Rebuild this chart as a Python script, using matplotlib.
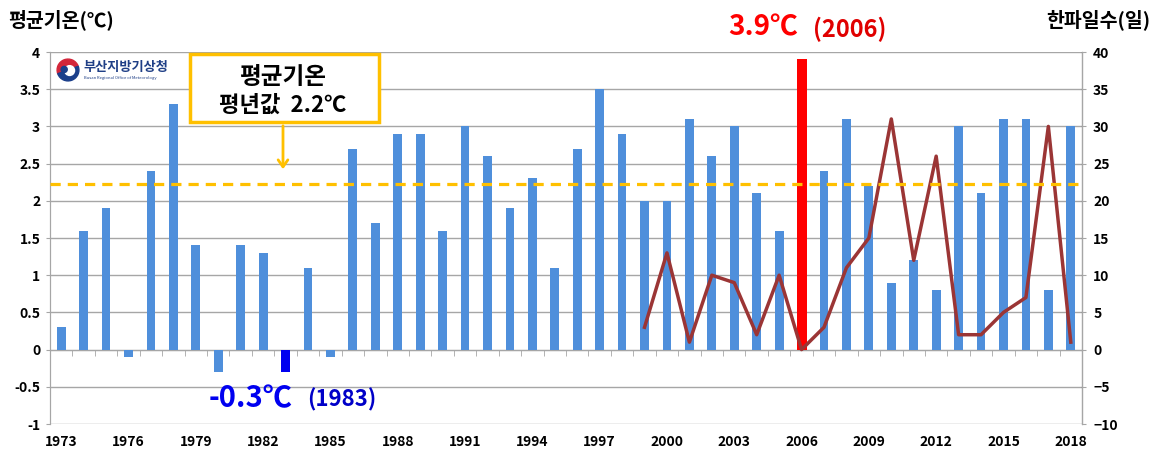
import numpy as np
import matplotlib
matplotlib.use("Agg")
import matplotlib.pyplot as plt
from matplotlib.patches import Wedge, Circle, FancyBboxPatch

plt.rcParams['font.family'] = ['Noto Sans CJK KR', 'DejaVu Sans']

# 연도별 겨울철 평균기온(℃)
years = list(range(1973, 2019))
temp = [0.3, 1.6, 1.9, -0.1, 2.4, 3.3, 1.4, -0.3, 1.4, 1.3,
        -0.3, 1.1, -0.1, 2.7, 1.7, 2.9, 2.9, 1.6, 3.0, 2.6,
        1.9, 2.3, 1.1, 2.7, 3.5, 2.9, 2.0, 2.0, 3.1, 2.6,
        3.0, 2.1, 1.6, 3.9, 2.4, 3.1, 2.2, 0.9, 1.2, 0.8,
        3.0, 2.1, 3.1, 3.1, 0.8, 3.0]

# 한파일수(일), 1999년부터
cold_years = list(range(1999, 2019))
cold_days = [3, 13, 1, 10, 9, 2, 10, 0, 3, 11,
             15, 31, 12, 26, 2, 2, 5, 7, 30, 1]

normal_temp = 2.23
min_year, max_year = 1983, 2006
xtick_years = list(range(1973, 2019, 3))

BAR = '#4F8FDB'
LINE = '#9B3535'
GOLD = '#FFC000'
GRID = '#A6A6A6'

fig = plt.figure(figsize=(11.57, 4.54), dpi=100)
ax = fig.add_axes([50 / 1157, 30 / 454, 1032 / 1157, 372 / 454])
ax2 = ax.twinx()

x = np.arange(len(years))
colors = []
widths = []
for y in years:
    if y == min_year:
        colors.append('#0000F0')
        widths.append(0.42)
    elif y == max_year:
        colors.append('#FF0000')
        widths.append(0.45)
    else:
        colors.append(BAR)
        widths.append(0.39)
ax.bar(x, temp, width=widths, color=colors, zorder=3)

ax.set_xlim(-0.5, len(years) - 0.5)
ax.set_ylim(-1, 4)
ax.set_yticks(np.arange(-1, 4.01, 0.5))
ax.set_yticklabels(['-1', '-0.5', '0', '0.5', '1', '1.5', '2', '2.5', '3', '3.5', '4'])
ax.grid(axis='y', color=GRID, lw=1, zorder=0)
ax.set_axisbelow(True)

# x축 선은 0에서, 눈금 라벨은 아래쪽에
ax.spines['bottom'].set_position(('data', 0))
ax.spines['bottom'].set_color(GRID)
ax.set_xticks(x[:-1] + 0.5, minor=True)
ax.set_xticks([])
ax.tick_params(axis='x', which='minor', length=4, color=GRID, direction='out')
sec = ax.secondary_xaxis('bottom')
sec.spines['bottom'].set_visible(False)
sec.set_xticks([years.index(y) for y in xtick_years])
sec.set_xticklabels([str(y) for y in xtick_years], fontsize=10, fontweight='bold')
sec.tick_params(length=0, pad=8)

for s in ['top']:
    ax.spines[s].set_visible(False)
    ax2.spines[s].set_visible(False)
ax2.spines['bottom'].set_visible(False)
ax.spines['left'].set_color(GRID)
ax2.spines['left'].set_color(GRID)
ax2.spines['right'].set_color(GRID)
ax.tick_params(axis='y', length=3, color=GRID, labelsize=10, pad=4)
for t in ax.get_yticklabels():
    t.set_fontweight('bold')

cx = [years.index(y) for y in cold_years]
ax2.plot(cx, cold_days, color=LINE, lw=2.5, zorder=4)
ax2.set_ylim(-10, 40)
ax2.set_yticks(range(-10, 41, 5))
ax2.tick_params(axis='y', length=3, color=GRID, labelsize=10, pad=5)
for t in ax2.get_yticklabels():
    t.set_fontweight('bold')

# 평년값 점선
ax2.axhline(normal_temp * 10, color=GOLD, lw=2.3, ls=(0, (3.2, 2.2)), zorder=5)

# 축 제목
fig.text(8 / 1157, 1 - 20 / 454, '평균기온(℃)', fontsize=14, fontweight='bold',
         ha='left', va='center')
fig.text(1150 / 1157, 1 - 20 / 454, '한파일수(일)', fontsize=14, fontweight='bold',
         ha='right', va='center')

# 평년값 박스와 화살표
box_x = 283
fig.patches.append(FancyBboxPatch((190 / 1157, 1 - 122 / 454), 189 / 1157, 68 / 454,
                                  boxstyle='square,pad=0', transform=fig.transFigure,
                                  fc='white', ec=GOLD, lw=2.5, zorder=10))
fig.text(box_x / 1157, 1 - 77 / 454, '평균기온', fontsize=17, fontweight='bold',
         ha='center', va='center', zorder=11)
fig.text(box_x / 1157, 1 - 105 / 454, '평년값  2.2℃', fontsize=16, fontweight='bold',
         ha='center', va='center', zorder=11)
ax.annotate('', xy=(box_x / 1157, 1 - 172 / 454), xytext=(box_x / 1157, 1 - 123 / 454),
            xycoords='figure fraction', textcoords='figure fraction',
            arrowprops=dict(arrowstyle='->,head_length=0.5,head_width=0.35',
                            color=GOLD, lw=2), zorder=11)

# 최고/최저 표시
imax = years.index(max_year)
imin = years.index(min_year)
fig.text(798 / 1157, 1 - 27 / 454, '3.9℃', fontsize=20, fontweight='bold',
         color='#FF0000', ha='right', va='center')
fig.text(813 / 1157, 1 - 29 / 454, '(2006)', fontsize=17, fontweight='bold',
         color='#E00000', ha='left', va='center')
ax.text(imin + 0.3, -0.66, '-0.3℃', fontsize=21, fontweight='bold',
        color='#0000F0', ha='right', va='center')
ax.text(imin + 0.95, -0.67, '(1983)', fontsize=16, fontweight='bold',
        color='#0000C8', ha='left', va='center')

# 부산지방기상청 로고
logo = fig.add_axes([56 / 1157, 1 - 82 / 454, 24 / 1157, 24 / 454])
logo.set_xlim(-1.1, 1.1)
logo.set_ylim(-1.1, 1.1)
logo.axis('off')
logo.add_patch(Wedge((0, 0), 1, 20, 200, color='#D3263A'))
logo.add_patch(Wedge((0, 0), 1, 200, 380, color='#1B3F8B'))
logo.add_patch(Circle((0.15, -0.05), 0.45, color='white'))
logo.add_patch(Circle((-0.35, 0.05), 0.28, color='#1B3F8B'))
fig.text(83 / 1157, 1 - 67 / 454, '부산지방기상청', fontsize=9.5, fontweight='bold',
         color='#1F3F86', ha='left', va='center')
fig.text(84 / 1157, 1 - 78 / 454, 'Busan Regional Office of Meteorology', fontsize=3,
         color='#1F3F86', ha='left', va='center')

fig.savefig('out.png', dpi=100)
